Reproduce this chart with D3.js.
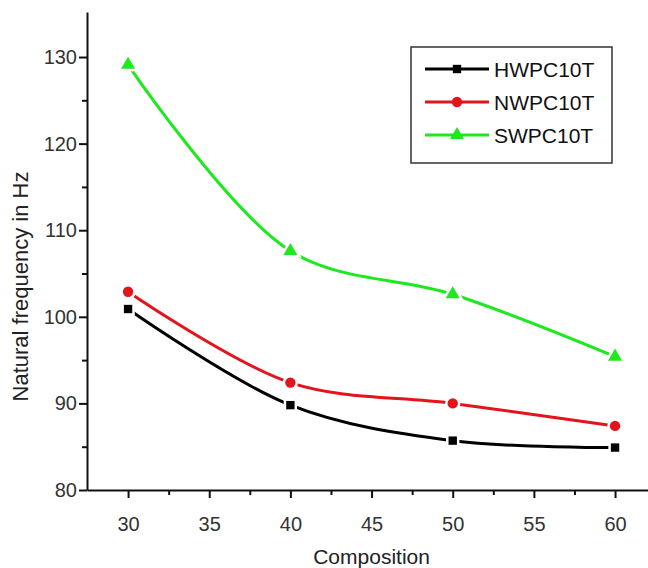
<!DOCTYPE html>
<html>
<head>
<meta charset="utf-8">
<script src="https://cdn.jsdelivr.net/npm/d3@7"></script>
<style>
  body { margin: 0; background: #fff; }
  text { font-family: "Liberation Sans", Arial, sans-serif; }
  .axis path, .axis line { stroke: #111; stroke-width: 2; }
  .axis text { font-size: 20px; fill: #333; }
</style>
</head>
<body>
<div id="vis"></div>
<script>
const compositions = [30, 40, 50, 60];
const hwpc = [100.9, 89.8, 85.7, 84.9];
const nwpc = [102.9, 92.4, 90.0, 87.4];
const swpc = [129.1, 107.6, 102.6, 95.4];
const seriesNames = ["HWPC10T", "NWPC10T", "SWPC10T"];
const xTicks = [30, 35, 40, 45, 50, 55, 60];
const yTicks = [80, 90, 100, 110, 120, 130];

const W = 648, H = 568;
const margin = { top: 12, right: 0, bottom: 78, left: 87 };
const width = W - margin.left - margin.right;
const height = H - margin.top - margin.bottom;

const svg = d3.select("#vis").append("svg")
    .attr("width", W).attr("height", H);
const g = svg.append("g").attr("transform", `translate(${margin.left},${margin.top})`);

const x = d3.scaleLinear().domain([27.47, 62.03]).range([0, width]);
const y = d3.scaleLinear().domain([80, 135.2]).range([height, 0]);

// minor ticks
g.append("g").attr("class", "axis")
    .attr("transform", `translate(0,${height})`)
    .call(d3.axisBottom(x).tickValues([32.5, 37.5, 42.5, 47.5, 52.5, 57.5]).tickSize(5).tickFormat(""))
    .select(".domain").remove();
g.append("g").attr("class", "axis")
    .call(d3.axisLeft(y).tickValues([85, 95, 105, 115, 125]).tickSize(5).tickFormat(""))
    .select(".domain").remove();

// major axes
g.append("g").attr("class", "axis")
    .attr("transform", `translate(0,${height})`)
    .call(d3.axisBottom(x).tickValues(xTicks).tickSize(8).tickSizeOuter(0).tickPadding(19));
g.append("g").attr("class", "axis")
    .call(d3.axisLeft(y).tickValues(yTicks).tickSize(8).tickSizeOuter(0).tickPadding(2));

// axis titles
svg.append("text")
    .attr("x", margin.left + x(45)).attr("y", 564)
    .attr("text-anchor", "middle").attr("font-size", 21).attr("fill", "#222")
    .text("Composition");
svg.append("text")
    .attr("transform", `translate(28,${margin.top + y(103.5)}) rotate(-90)`)
    .attr("text-anchor", "middle").attr("font-size", 22).attr("fill", "#222")
    .text("Natural frequency in Hz");

const series = [
    { name: seriesNames[0], values: hwpc, color: "#000000", shape: d3.symbolSquare, size: 70 },
    { name: seriesNames[1], values: nwpc, color: "#e3141b", shape: d3.symbolCircle, size: 85 },
    { name: seriesNames[2], values: swpc, color: "#1ee81e", shape: d3.symbolTriangle, size: 85 }
];

const line = d3.line()
    .x((d, i) => x(compositions[i]))
    .y(d => y(d))
    .curve(d3.curveCatmullRom.alpha(0.5));

series.forEach(s => {
    g.append("path")
        .attr("d", line(s.values))
        .attr("fill", "none")
        .attr("stroke", s.color)
        .attr("stroke-width", 3);
});

series.forEach(s => {
    g.selectAll(null)
        .data(s.values)
        .enter().append("path")
        .attr("d", d3.symbol().type(s.shape).size(s.size))
        .attr("transform", (d, i) => `translate(${x(compositions[i])},${y(d)})`)
        .attr("fill", s.color)
        .attr("stroke", "#fff")
        .attr("stroke-width", 5)
        .attr("paint-order", "stroke");
});

// legend
const legend = svg.append("g").attr("transform", "translate(411,47)");
legend.append("rect")
    .attr("width", 201).attr("height", 116)
    .attr("fill", "#fff").attr("stroke", "#333").attr("stroke-width", 1.5);
series.forEach((s, i) => {
    const row = legend.append("g").attr("transform", `translate(0,${22 + i * 33})`);
    row.append("line")
        .attr("x1", 14).attr("x2", 78)
        .attr("stroke", s.color).attr("stroke-width", 3);
    row.append("path")
        .attr("d", d3.symbol().type(s.shape).size(s.size))
        .attr("transform", "translate(46,0)")
        .attr("fill", s.color);
    row.append("text")
        .attr("x", 83).attr("y", 8)
        .attr("font-size", 21).attr("fill", "#111")
        .text(s.name);
});
</script>
</body>
</html>
